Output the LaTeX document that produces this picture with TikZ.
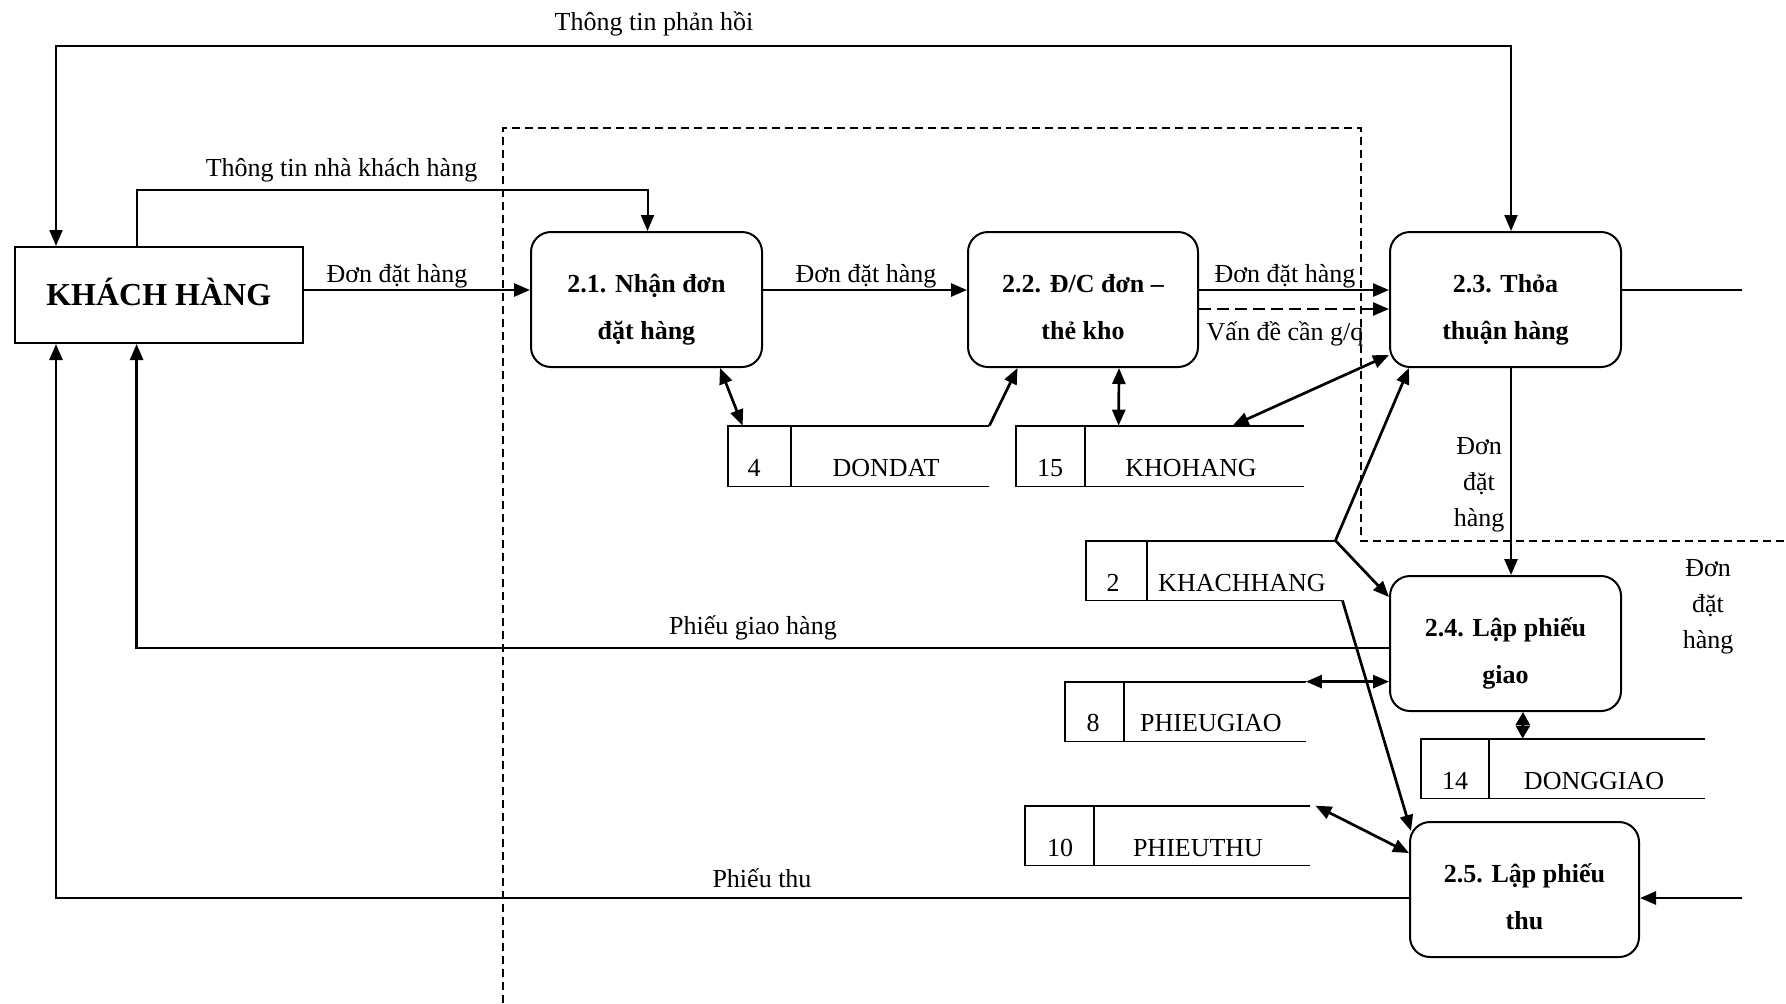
\documentclass[tikz,border=0pt]{standalone}
\usepackage{fontspec}
\setmainfont{Liberation Serif}
\usetikzlibrary{arrows.meta,calc}
\newcommand\boxtext[2]{\rule{0pt}{20pt}#1\\#2\rule[-4pt]{0pt}{4pt}}
\begin{document}
\begin{tikzpicture}[x=0.5pt,y=-0.5pt,
  >={Triangle[length=8pt,width=6.5pt]},
  proc/.style={draw, line width=1pt, rounded corners=10pt, inner sep=0pt, align=center,
    minimum width=115.5pt, minimum height=67.5pt,
    font={\fontsize{13pt}{23.5pt}\selectfont\bfseries}},
  ext/.style={draw, line width=1pt, inner sep=0pt,
    font={\fontsize{16pt}{19pt}\selectfont\bfseries}},
  lbl/.style={inner sep=0pt, font={\fontsize{13pt}{18pt}\selectfont}},
  stlbl/.style={inner sep=0pt, font={\fontsize{13pt}{16pt}\selectfont}},
  store/.style={inner sep=0pt, minimum height=29.5pt},
  storeline/.style={line width=0.9pt},
  flow/.style={line width=1.35pt, ->},
  biflow/.style={line width=1.35pt, <->},
  thinflow/.style={line width=1pt},
  dashbound/.style={line width=0.7pt, dash pattern=on 4pt off 2.5pt},
  dashflow/.style={line width=1.35pt, ->, dash pattern=on 6pt off 3pt}]
\useasboundingbox (0,0) rectangle (1786,1003);

% guide coordinates
\coordinate (xL) at (56,0);
\coordinate (xL2) at (136.6,0);
\coordinate (x21) at (647.5,0);
\coordinate (x23) at (1511,0);
\coordinate (yTop) at (0,45.6);
\coordinate (yInfo) at (0,190);
\coordinate (yMain) at (0,290);
\coordinate (yDash) at (0,309);
\coordinate (yPG) at (0,648);
\coordinate (yPT) at (0,898);
\coordinate (rEnd) at (1742,290);
\coordinate (rEnd2) at (1742,898);

% boundary (dashed)
\coordinate (b1) at (503,1003);
\coordinate (b2) at (503,128);
\coordinate (b3) at (1361,128);
\coordinate (b4) at (1361,541);
\coordinate (b5) at (1786,541);
\draw[dashbound] (b1) -- (b2) -- (b3) -- (b4) -- (b5);

% external entity and processes
\node[ext, minimum width=144.25pt, minimum height=48pt] (KH) at (158.75,295) {\raisebox{3.5pt}{KHÁCH HÀNG}};
\node[proc] (p21) at (646.5,299.5) {\boxtext{2.1. Nhận đơn}{đặt hàng}};
\node[proc, minimum width=115pt] (p22) at (1083,299.5) {\boxtext{2.2. Đ/C đơn –}{thẻ kho}};
\node[proc] (p23) at (1505.5,299.5) {\boxtext{2.3. Thỏa}{thuận hàng}};
\node[proc] (p24) at (1505.5,643.5) {\boxtext{2.4. Lập phiếu}{giao}};
\node[proc, minimum width=114.5pt] (p25) at (1524.5,889.5) {\boxtext{2.5. Lập phiếu}{thu}};

% data stores
\node[store, minimum width=130.5pt, minimum height=30pt] (DONDAT) at (858.5,456) {};
\draw[storeline] (DONDAT.north east) -- (DONDAT.north west) -- (DONDAT.south west) -- (DONDAT.south east);
\draw[storeline] ([xshift=31.5pt]DONDAT.north west) -- ([xshift=31.5pt]DONDAT.south west);
\node[stlbl] (DONDATn) at (754,468) {4};
\node[stlbl] (DONDATt) at (886,468) {DONDAT};

\node[store, minimum width=144pt, minimum height=30pt] (KHOHANG) at (1160,456) {};
\draw[storeline] (KHOHANG.north east) -- (KHOHANG.north west) -- (KHOHANG.south west) -- (KHOHANG.south east);
\draw[storeline] ([xshift=34.5pt]KHOHANG.north west) -- ([xshift=34.5pt]KHOHANG.south west);
\node[stlbl] (KHOHANGn) at (1050,468) {15};
\node[stlbl] (KHOHANGt) at (1191,468) {KHOHANG};

\node[store, minimum width=124.5pt] (KHACHHANG) at (1210.5,570.5) {};
\draw[storeline] (KHACHHANG.north east) -- (KHACHHANG.north west) -- (KHACHHANG.south west) -- ([xshift=3.5pt]KHACHHANG.south east);
\draw[storeline] ([xshift=30.5pt]KHACHHANG.north west) -- ([xshift=30.5pt]KHACHHANG.south west);
\node[stlbl] (KHACHHANGn) at (1113,583) {2};
\node[stlbl] (KHACHHANGt) at (1242,583) {KHACHHANG};

\node[store, minimum width=120pt] (PHIEUGIAO) at (1185.5,711.5) {};
\draw[storeline] (PHIEUGIAO.north east) -- (PHIEUGIAO.north west) -- (PHIEUGIAO.south west) -- (PHIEUGIAO.south east);
\draw[storeline] ([xshift=29.25pt]PHIEUGIAO.north west) -- ([xshift=29.25pt]PHIEUGIAO.south west);
\node[stlbl] (PHIEUGIAOn) at (1093,723) {8};
\node[stlbl] (PHIEUGIAOt) at (1211,723) {PHIEUGIAO};

\node[store, minimum width=141.75pt] (DONGGIAO) at (1563.25,768.5) {};
\draw[storeline] (DONGGIAO.north east) -- (DONGGIAO.north west) -- (DONGGIAO.south west) -- (DONGGIAO.south east);
\draw[storeline] ([xshift=33.75pt]DONGGIAO.north west) -- ([xshift=33.75pt]DONGGIAO.south west);
\node[stlbl] (DONGGIAOn) at (1455,781) {14};
\node[stlbl] (DONGGIAOt) at (1594,781) {DONGGIAO};

\node[store, minimum width=142.5pt] (PHIEUTHU) at (1167.5,835.5) {};
\draw[storeline] (PHIEUTHU.north east) -- (PHIEUTHU.north west) -- (PHIEUTHU.south west) -- (PHIEUTHU.south east);
\draw[storeline] ([xshift=34.5pt]PHIEUTHU.north west) -- ([xshift=34.5pt]PHIEUTHU.south west);
\node[stlbl] (PHIEUTHUn) at (1060,848) {10};
\node[stlbl] (PHIEUTHUt) at (1198,848) {PHIEUTHU};

% flows
\draw[thinflow,<->] (KH.north -| xL) |- (yTop -| x23) -- (p23.north -| x23);
\draw[thinflow,->] (KH.north -| xL2) |- (yInfo -| x21) -- (p21.north -| x21);
\draw[flow] (KH.east |- yMain) -- (p21.west |- yMain);
\draw[flow] (p21.east |- yMain) -- (p22.west |- yMain);
\draw[flow] (p22.east |- yMain) -- (p23.west |- yMain);
\draw[dashflow] (p22.east |- yDash) -- (p23.west |- yDash);
\draw[thinflow] (p23.east |- yMain) -- (rEnd);
\draw[flow] (p23.south -| x23) -- (p24.north -| x23);
\draw[flow] (p24.west |- yPG) -| (KH.south -| xL2);
\draw[flow] (p25.west |- yPT) -| (KH.south -| xL);
\draw[flow] (rEnd2) -- (p25.east |- yPT);

\draw[biflow] ([xshift=36.75pt]p21.south) -- ([xshift=7.5pt]DONDAT.north west);
\draw[flow] (DONDAT.north east) -- ([xshift=-32.75pt]p22.south);
\draw[biflow] ([xshift=18pt]p22.south) -- ([xshift=51.5pt]KHOHANG.north west);
\draw[biflow] ([xshift=108.5pt]KHOHANG.north west) -- ([yshift=-27.75pt]p23.west);
\draw[flow] (KHACHHANG.north east) -- ([xshift=10pt]p23.south west);
\draw[flow] (KHACHHANG.north east) -- ([yshift=-11pt]p24.north west);
\draw[flow] ([xshift=3.5pt]KHACHHANG.south east) -- ([xshift=1pt,yshift=-5pt]p25.north west);
\draw[biflow] (PHIEUGIAO.north east) -- (p24.west |- PHIEUGIAO.north east);
\draw[line width=1.35pt, {Triangle[length=6.5pt,width=7pt]}-{Triangle[length=6.5pt,width=7pt]}] ([xshift=8.75pt]p24.south) -- ([xshift=50.75pt]DONGGIAO.north west);
\draw[biflow] ([xshift=2.5pt]PHIEUTHU.north east) -- ([yshift=18.25pt]p25.west);

% labels
\node[lbl, anchor=base] (l1) at (654,30) {Thông tin phản hồi};
\node[lbl, anchor=base] (l2) at (341.5,176) {Thông tin nhà khách hàng};
\node[lbl, anchor=base] (l3) at (397,282) {Đơn đặt hàng};
\node[lbl, anchor=base] (l4) at (866,282) {Đơn đặt hàng};
\node[lbl, anchor=base] (l5) at (1285,282) {Đơn đặt hàng};
\node[lbl, anchor=base] (l6) at (1285,340) {Vấn đề cần g/q};
\node[lbl, align=center] (l7) at (1479,485) {Đơn\\đặt\\hàng};
\node[lbl, align=center] (l8) at (1708,607) {Đơn\\đặt\\hàng};
\node[lbl, anchor=base] (l9) at (753,634) {Phiếu giao hàng};
\node[lbl, anchor=base] (l10) at (762,887) {Phiếu thu};
\end{tikzpicture}
\end{document}
